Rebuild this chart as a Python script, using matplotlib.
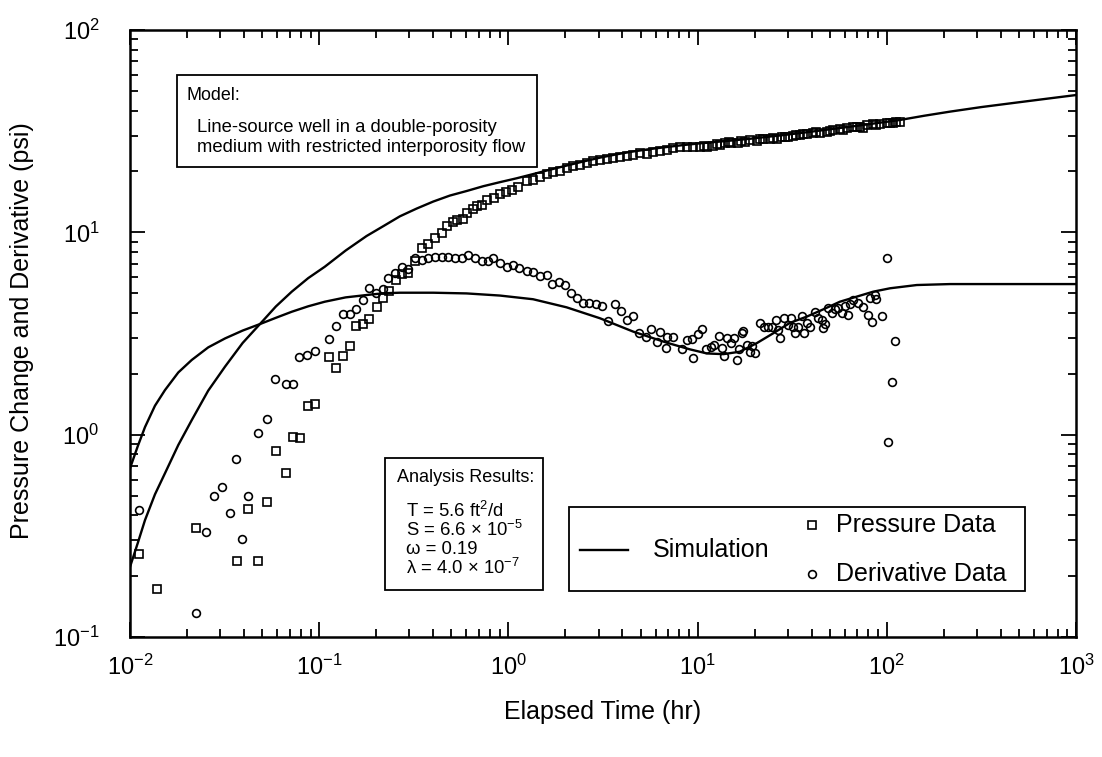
import matplotlib
matplotlib.use("Agg")
import matplotlib.pyplot as plt
from matplotlib.patches import Rectangle
from matplotlib.lines import Line2D
from matplotlib.ticker import LogLocator, LogFormatterSciNotation, NullFormatter

# ---------------- data ----------------
pressure_time = [0.0112, 0.0139, 0.0223, 0.0368, 0.0422, 0.0476, 0.0532, 0.0589, 0.0670, 0.0727,
                 0.0789, 0.0869, 0.0953, 0.112, 0.123, 0.133, 0.146, 0.156, 0.171, 0.184,
                 0.201, 0.217, 0.234, 0.255, 0.273, 0.296, 0.321, 0.348, 0.377, 0.409,
                 0.444, 0.472, 0.511, 0.533, 0.573, 0.601, 0.647, 0.679, 0.723, 0.767,
                 0.840, 0.902, 0.970, 1.04, 1.13, 1.25, 1.35, 1.47, 1.59, 1.73,
                 1.87, 2.03, 2.20, 2.39, 2.59, 2.81, 3.05, 3.30, 3.58, 3.89,
                 4.22, 4.57, 4.96, 5.38, 5.83, 6.32, 6.86, 7.44, 8.07, 8.75,
                 9.48, 10.3, 10.8, 11.2, 12.1, 12.6, 13.1, 14.0, 14.6, 15.1,
                 16.4, 16.9, 17.8, 18.9, 20.5, 21.4, 22.2, 24.1, 25.0, 26.2,
                 27.8, 29.0, 30.1, 32.0, 33.3, 34.8, 36.2, 37.7, 40.8, 42.5,
                 44.3, 48.1, 50.0, 52.1, 56.5, 59.0, 61.4, 66.5, 69.3, 72.0,
                 75.1, 78.2, 84.8, 88.0, 92.0, 99.8, 104, 108, 112, 117]
pressure_value = [0.256, 0.173, 0.347, 0.238, 0.430, 0.238, 0.466, 0.833, 0.648, 0.977,
                  0.962, 1.39, 1.41, 2.43, 2.13, 2.45, 2.74, 3.45, 3.52, 3.72,
                  4.29, 4.75, 5.11, 5.81, 6.22, 6.31, 7.20, 8.34, 8.76, 9.34,
                  9.96, 10.7, 11.2, 11.5, 11.7, 12.5, 13.0, 13.5, 13.6, 14.4,
                  14.7, 15.5, 15.9, 16.2, 16.8, 17.9, 18.1, 18.7, 19.4, 19.9,
                  20.2, 20.7, 21.3, 21.5, 22.1, 22.6, 22.8, 23.0, 23.2, 23.7,
                  23.8, 24.1, 24.6, 24.4, 25.0, 25.3, 25.5, 26.0, 26.5, 26.5,
                  26.5, 26.5, 26.8, 26.5, 26.8, 27.3, 27.0, 27.5, 27.8, 27.5,
                  27.7, 28.3, 28.1, 28.6, 28.4, 28.9, 28.8, 28.8, 29.2, 28.8,
                  29.7, 29.6, 29.7, 29.9, 30.3, 30.3, 30.5, 30.6, 30.9, 31.3,
                  31.1, 31.4, 31.8, 32.0, 32.3, 32.2, 32.7, 33.1, 33.3, 33.0,
                  32.7, 33.9, 34.3, 34.0, 34.3, 34.6, 34.9, 34.8, 35.0, 35.1]

deriv_time = [0.0112, 0.0224, 0.0251, 0.0279, 0.0308, 0.0337, 0.0365, 0.0392, 0.0420, 0.0475,
              0.0530, 0.0586, 0.0668, 0.0727, 0.0780, 0.0865, 0.0951, 0.112, 0.123, 0.134,
              0.146, 0.156, 0.170, 0.184, 0.200, 0.217, 0.232, 0.252, 0.273, 0.296,
              0.321, 0.348, 0.377, 0.409, 0.444, 0.481, 0.522, 0.566, 0.614, 0.665,
              0.723, 0.783, 0.832, 0.902, 0.980, 1.06, 1.14, 1.25, 1.35, 1.47,
              1.59, 1.71, 1.86, 1.99, 2.13, 2.31, 2.49, 2.67, 2.90, 3.11,
              3.35, 3.66, 3.92, 4.22, 4.54, 4.92, 5.31, 5.67, 6.08, 6.32,
              6.78, 6.86, 7.44, 8.24, 8.82, 9.30, 9.45, 10.1, 10.5, 11.1,
              11.7, 12.2, 12.9, 13.4, 13.8, 14.3, 15.0, 15.6, 16.1, 16.6,
              17.1, 17.4, 18.3, 18.9, 19.5, 20.1, 21.5, 22.4, 23.6, 24.6,
              25.9, 26.7, 27.2, 28.6, 30.1, 31.0, 32.0, 32.8, 34.0, 35.5,
              36.5, 37.7, 39.3, 41.7, 43.4, 45.2, 45.8, 47.1, 49.0, 51.1,
              53.2, 55.4, 57.7, 60.1, 62.5, 63.8, 66.5, 70.6, 75.1, 79.8,
              81.5, 83.2, 86.5, 88.0, 93.9, 99.8, 102, 106, 110]
deriv_value = [0.423, 0.132, 0.331, 0.497, 0.551, 0.409, 0.755, 0.304, 0.497, 1.02,
               1.20, 1.89, 1.79, 1.79, 2.43, 2.47, 2.59, 2.96, 3.45, 3.96,
               3.96, 4.18, 4.63, 5.32, 4.99, 5.26, 5.97, 6.27, 6.76, 6.56,
               7.44, 7.30, 7.44, 7.52, 7.57, 7.52, 7.44, 7.44, 7.70, 7.44,
               7.24, 7.24, 7.44, 7.07, 6.76, 6.89, 6.70, 6.46, 6.39, 6.08,
               6.15, 5.55, 5.70, 5.49, 4.99, 4.72, 4.46, 4.46, 4.42, 4.32,
               3.66, 4.42, 4.10, 3.69, 3.86, 3.17, 3.05, 3.32, 2.88, 3.23,
               2.67, 3.03, 3.03, 2.64, 2.94, 2.96, 2.38, 3.14, 3.32, 2.64,
               2.72, 2.77, 3.07, 2.67, 2.45, 2.99, 2.83, 2.99, 2.34, 2.64,
               3.19, 3.25, 2.77, 2.57, 2.75, 2.54, 3.57, 3.39, 3.39, 3.39,
               3.69, 3.29, 2.99, 3.76, 3.48, 3.76, 3.42, 3.19, 3.42, 3.86,
               3.19, 3.57, 3.42, 4.05, 3.76, 3.69, 3.38, 3.52, 4.21, 3.98,
               4.16, 4.21, 3.98, 4.32, 3.90, 4.42, 4.63, 4.46, 4.26, 3.90,
               4.72, 3.61, 4.90, 4.68, 3.86, 7.46, 0.916, 1.82, 2.90]

sim_p_time = [0.01, 0.011, 0.012, 0.01355, 0.0153, 0.018, 0.0212, 0.0259, 0.0318, 0.0394,
              0.0486, 0.059, 0.0716, 0.0875, 0.107, 0.138, 0.178, 0.219, 0.267, 0.327,
              0.401, 0.491, 0.601, 0.736, 0.902, 1.106, 1.35, 1.66, 2.04, 2.49,
              3.05, 3.73, 4.57, 5.60, 6.86, 8.40, 10.2, 12.6, 15.5, 18.9,
              22.9, 27.2, 36.3, 50.0, 70.8, 117, 158, 216, 316, 486,
              708, 1000]
sim_p_value = [0.222, 0.292, 0.378, 0.507, 0.644, 0.889, 1.18, 1.65, 2.17, 2.84,
               3.52, 4.30, 5.09, 5.94, 6.76, 8.13, 9.59, 10.75, 12.0, 13.1,
               14.2, 15.2, 16.0, 16.9, 17.7, 18.5, 19.4, 20.4, 21.4, 22.4,
               23.4, 24.3, 25.1, 25.8, 26.4, 27.0, 27.5, 28.0, 28.5, 29.0,
               29.6, 30.1, 31.1, 32.3, 33.7, 35.9, 37.7, 39.5, 41.6, 43.8,
               45.8, 47.7]

sim_d_time = [0.01, 0.011, 0.012, 0.01355, 0.0153, 0.018, 0.0212, 0.0259, 0.0318, 0.0394,
              0.0486, 0.059, 0.0716, 0.0875, 0.107, 0.138, 0.178, 0.219, 0.267, 0.401,
              0.601, 0.902, 1.35, 2.03, 3.05, 4.57, 6.86, 9.11, 11.2, 13.7,
              16.7, 20.5, 25.1, 30.8, 37.7, 46.1, 56.5, 69.3, 84.8, 104,
              144, 216, 1000]
sim_d_value = [0.682, 0.879, 1.09, 1.39, 1.66, 2.03, 2.34, 2.70, 2.99, 3.27,
               3.52, 3.78, 4.05, 4.31, 4.54, 4.77, 4.90, 5.00, 5.03, 5.03,
               4.99, 4.87, 4.67, 4.26, 3.76, 3.23, 2.85, 2.64, 2.52, 2.50,
               2.57, 2.83, 3.17, 3.57, 3.83, 4.16, 4.54, 4.81, 5.09, 5.29,
               5.49, 5.55, 5.55]

model_lines = ["Line-source well in a double-porosity",
               "medium with restricted interporosity flow"]
results_lines = ["T = 5.6 ft$^2$/d",
                 "S = 6.6 $\\times$ 10$^{-5}$",
                 "\u03c9 = 0.19",
                 "\u03bb = 4.0 $\\times$ 10$^{-7}$"]

# ---------------- style ----------------
plt.rcParams['font.family'] = ['Liberation Sans', 'DejaVu Sans']
plt.rcParams['mathtext.fontset'] = 'custom'
plt.rcParams['mathtext.rm'] = 'Liberation Sans'
plt.rcParams['mathtext.it'] = 'Liberation Sans:italic'
plt.rcParams['mathtext.bf'] = 'Liberation Sans:bold'
plt.rcParams['mathtext.sf'] = 'Liberation Sans'

W, H = 1102, 757
fig = plt.figure(figsize=(W / 100, H / 100), dpi=100)
L, R, T, B = 130, 1076, 30, 637
ax = fig.add_axes([L / W, 1 - B / H, (R - L) / W, (B - T) / H])

def ax_x(px):
    return (px - L) / (R - L)

def ax_y(py):
    return (B - py) / (B - T)

ax.set_xscale('log')
ax.set_yscale('log')

ax.plot(sim_p_time, sim_p_value, color='black', lw=1.7, zorder=2)
ax.plot(sim_d_time, sim_d_value, color='black', lw=1.7, zorder=2)
ax.plot(pressure_time, pressure_value, ls='none', marker='s', ms=6.2,
        mfc='none', mec='black', mew=1.2, zorder=3)
ax.plot(deriv_time, deriv_value, ls='none', marker='o', ms=5.6,
        mfc='none', mec='black', mew=1.2, zorder=3)

ax.set_xlim(1e-2, 1e3)
ax.set_ylim(1e-1, 1e2)

for axis in (ax.xaxis, ax.yaxis):
    axis.set_major_locator(LogLocator(base=10, numticks=20))
    axis.set_minor_locator(LogLocator(base=10, subs=range(2, 10), numticks=20))
    axis.set_major_formatter(LogFormatterSciNotation())
    axis.set_minor_formatter(NullFormatter())

ax.tick_params(which='both', direction='in', top=True, right=True, width=1.3, colors='black')
ax.tick_params(which='major', length=11)
ax.tick_params(which='minor', length=5.5)
ax.tick_params(axis='x', which='major', labelsize=17, pad=13)
ax.tick_params(axis='y', which='major', labelsize=17, pad=22)
for s in ax.spines.values():
    s.set_linewidth(1.8)

ax.set_xlabel('Elapsed Time (hr)', fontsize=18)
ax.xaxis.set_label_coords(0.5, ax_y(712))
ax.xaxis.label.set_verticalalignment('center')
ax.set_ylabel('Pressure Change and Derivative (psi)', fontsize=18)
ax.yaxis.set_label_coords(ax_x(22), 0.505)
ax.yaxis.label.set_verticalalignment('center')

# ---------------- Model box ----------------
ax.add_patch(Rectangle((ax_x(177), ax_y(167)), ax_x(537) - ax_x(177), ax_y(75) - ax_y(167),
                       transform=ax.transAxes, fill=True, facecolor='white',
                       edgecolor='black', lw=1.3, zorder=4))
ax.text(ax_x(187), ax_y(95), 'Model:', transform=ax.transAxes, fontsize=12.9,
        ha='left', va='center', zorder=5)
ax.text(ax_x(197), ax_y(127), model_lines[0], transform=ax.transAxes, fontsize=13.3,
        ha='left', va='center', zorder=5)
ax.text(ax_x(197), ax_y(148), model_lines[1], transform=ax.transAxes, fontsize=13.3,
        ha='left', va='center', zorder=5)

# ---------------- Analysis results box ----------------
ax.add_patch(Rectangle((ax_x(385), ax_y(590)), ax_x(543) - ax_x(385), ax_y(458) - ax_y(590),
                       transform=ax.transAxes, fill=True, facecolor='white',
                       edgecolor='black', lw=1.3, zorder=4))
ax.text(ax_x(397), ax_y(478), 'Analysis Results:', transform=ax.transAxes, fontsize=13,
        ha='left', va='center', zorder=5)
for i, line in enumerate(results_lines):
    ax.text(ax_x(406), ax_y(511 + i * 19), line, transform=ax.transAxes, fontsize=13.3,
            ha='left', va='center', zorder=5)

# ---------------- Legend box ----------------
ax.add_patch(Rectangle((ax_x(569), ax_y(591)), ax_x(1025) - ax_x(569), ax_y(507) - ax_y(591),
                       transform=ax.transAxes, fill=True, facecolor='white',
                       edgecolor='black', lw=1.3, zorder=4))
ax.add_line(Line2D([ax_x(580), ax_x(628)], [ax_y(550), ax_y(550)], transform=ax.transAxes,
                   color='black', lw=1.7, zorder=5))
ax.text(ax_x(653), ax_y(550), 'Simulation', transform=ax.transAxes, fontsize=18,
        ha='left', va='center', zorder=5)
ax.add_line(Line2D([ax_x(812)], [ax_y(525)], transform=ax.transAxes, ls='none', marker='s',
                   ms=6.2, mfc='none', mec='black', mew=1.2, zorder=5))
ax.text(ax_x(836), ax_y(525), 'Pressure Data', transform=ax.transAxes, fontsize=18,
        ha='left', va='center', zorder=5)
ax.add_line(Line2D([ax_x(812)], [ax_y(574)], transform=ax.transAxes, ls='none', marker='o',
                   ms=5.6, mfc='none', mec='black', mew=1.2, zorder=5))
ax.text(ax_x(836), ax_y(574), 'Derivative Data', transform=ax.transAxes, fontsize=18,
        ha='left', va='center', zorder=5)

fig.savefig('out.png', dpi=100, facecolor='white')
